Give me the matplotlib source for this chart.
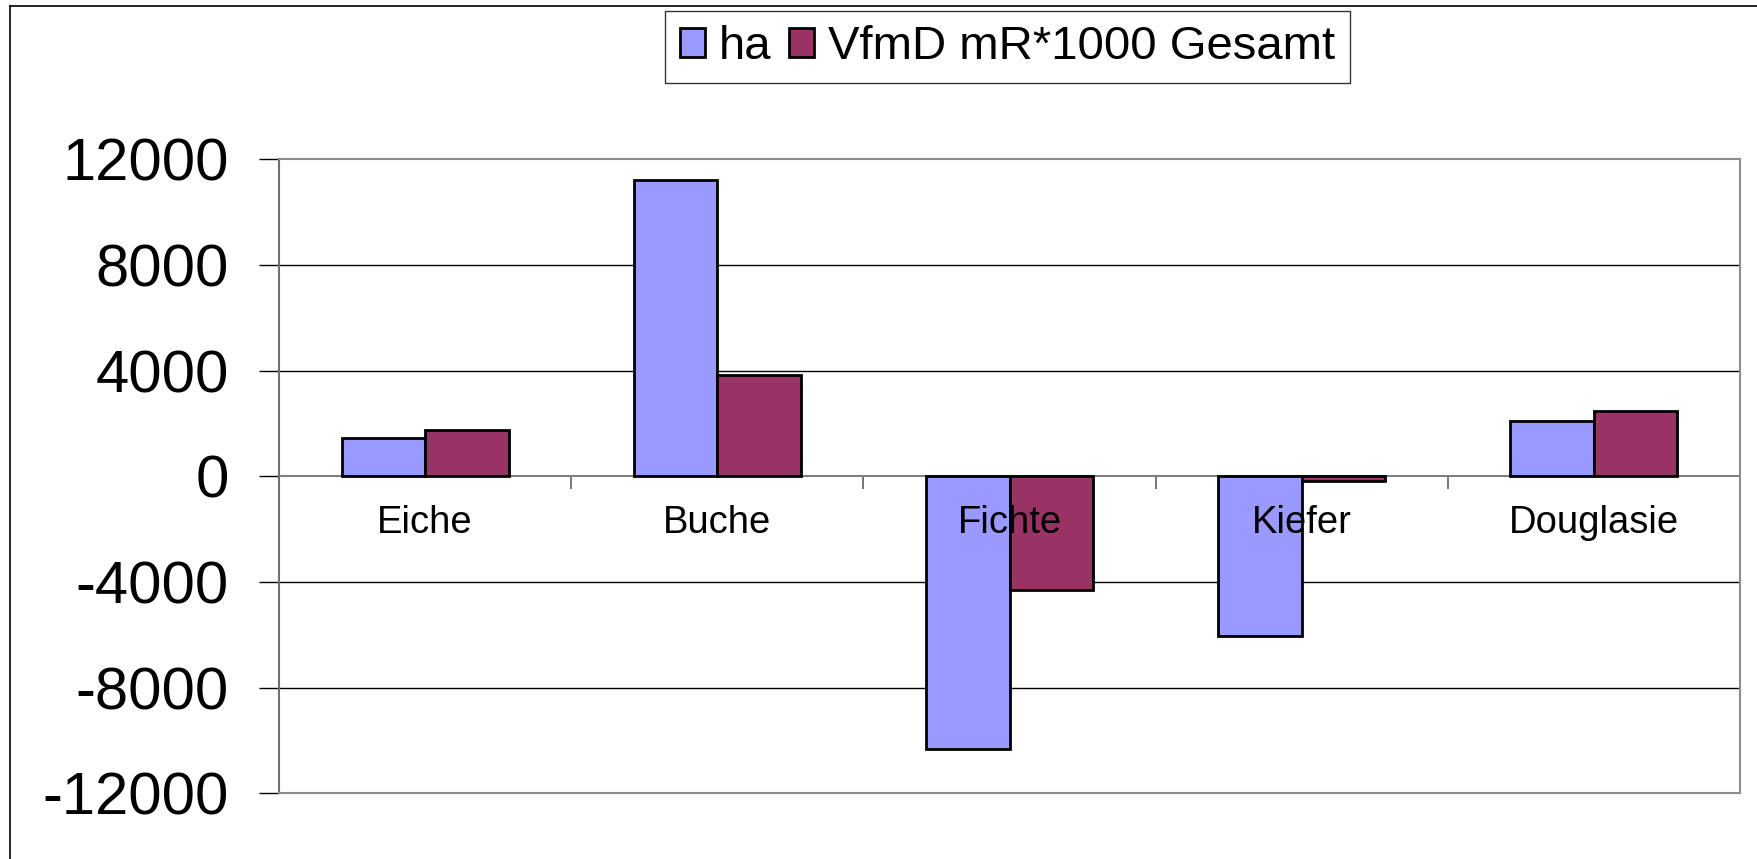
import matplotlib
matplotlib.use("Agg")
import matplotlib.pyplot as plt
from matplotlib.lines import Line2D
import numpy as np

# Tree species and their changes
categories = ["Eiche", "Buche", "Fichte", "Kiefer", "Douglasie"]
ha_values = [1450, 11235, -10320, -6030, 2090]
vfmd_values = [1740, 3830, -4305, -170, 2470]
series_names = ["ha", "VfmD mR*1000 Gesamt"]
y_ticks = [12000, 8000, 4000, 0, -4000, -8000, -12000]

plt.rcParams["font.family"] = ["Liberation Sans", "DejaVu Sans"]
plt.rcParams["axes.unicode_minus"] = False

W, H, DPI = 1757, 859, 100
fig = plt.figure(figsize=(W / DPI, H / DPI), dpi=DPI)
fig.patch.set_facecolor("white")

left, right, top, bottom = 279, 1740, 159.3, 793.3
ax = fig.add_axes([left / W, 1 - bottom / H, (right - left) / W, (bottom - top) / H])

x = np.arange(len(categories))
bw = 1 / 3.5
b1 = ax.bar(x - bw / 2, ha_values, bw, color="#9999FF", edgecolor="black",
            linewidth=2.0, label=series_names[0], zorder=3)
b2 = ax.bar(x + bw / 2, vfmd_values, bw, color="#993366", edgecolor="black",
            linewidth=2.0, label=series_names[1], zorder=3)

ymin, ymax = y_ticks[-1], y_ticks[0]
ax.set_xlim(-0.5, len(categories) - 0.5)
ax.set_ylim(ymin, ymax)

# horizontal gridlines
for t in y_ticks[1:-1]:
    if t != 0:
        ax.axhline(t, color="black", linewidth=1.0, zorder=1)

# plot-area border
for s in ax.spines.values():
    s.set_color("#8c8c8c")
    s.set_linewidth(1.5)
ax.spines["left"].set_color("#707070")

# category axis through zero with ticks at the category boundaries
ax.axhline(0, color="#808080", linewidth=1.5, zorder=2)
ax.set_xticks([])
zero_frac = (0 - ymin) / (ymax - ymin)
sec = ax.secondary_xaxis(zero_frac - 1e-6)
sec.set_xticks(np.arange(-0.5, len(categories), 1.0))
sec.set_xticklabels([])
sec.tick_params(axis="x", direction="out", length=9, width=1.2, color="#606060",
                bottom=True, top=False)
sec.spines["bottom"].set_visible(False)
sec.spines["top"].set_visible(False)

for xi, name in zip(x, categories):
    ax.annotate(name, xy=(xi, 0), xytext=(0, -57), textcoords="offset pixels",
                ha="center", va="baseline", fontsize=27.5, color="black",
                zorder=5)

ax.set_yticks(y_ticks)
ax.set_yticklabels([str(t) for t in y_ticks])
ax.tick_params(axis="y", direction="out", length=14.4, width=1.0, color="black",
               pad=21.6, labelsize=43)

# legend
leg = fig.legend(handles=[b1, b2], labels=series_names, loc="center",
                 bbox_to_anchor=(1007.5 / W, 1 - 47 / H), ncol=2,
                 fontsize=34, frameon=True, fancybox=False, shadow=False,
                 edgecolor="black", handlelength=0.53, handleheight=0.57,
                 handletextpad=0.3, columnspacing=0.38, borderpad=0.3,
                 borderaxespad=0)
leg.get_frame().set_linewidth(1.0)

# outer chart frame
fx = 9.5 / W
fy = 1 - 6 / H
fig.add_artist(Line2D([fx, fx], [0, fy], transform=fig.transFigure,
                      color="black", linewidth=1.2))
fig.add_artist(Line2D([fx, 1], [fy, fy], transform=fig.transFigure,
                      color="black", linewidth=1.2))

fig.savefig("out.png", dpi=DPI, facecolor="white")
